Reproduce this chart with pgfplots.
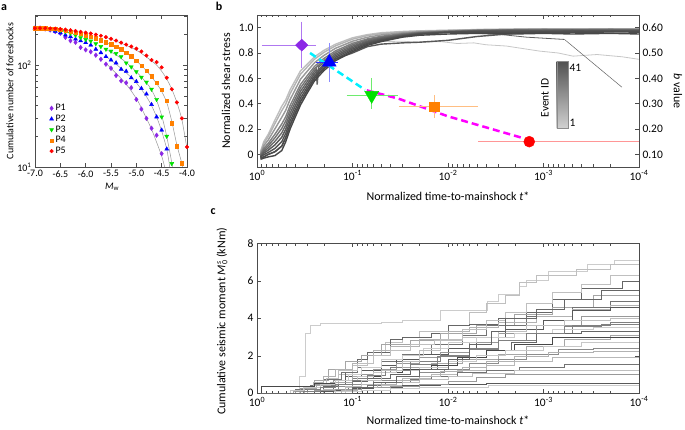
\documentclass[border=0pt]{standalone}
\usepackage{pgfplots}
\pgfplotsset{compat=1.18}
\usepackage{fontspec}
\setmainfont{Carlito}
\definecolor{cP}{RGB}{140,40,230}
\definecolor{cB}{RGB}{0,0,255}
\definecolor{cG}{RGB}{0,225,0}
\definecolor{cO}{RGB}{255,128,0}
\definecolor{cR}{RGB}{255,0,0}
\definecolor{cPl}{RGB}{175,120,240}
\definecolor{cBl}{RGB}{90,90,255}
\definecolor{cGl}{RGB}{110,235,110}
\definecolor{cOl}{RGB}{255,190,130}
\definecolor{cRl}{RGB}{255,150,150}
\definecolor{cCy}{RGB}{0,240,255}
\definecolor{cMa}{RGB}{255,0,255}
\definecolor{fitg}{RGB}{150,150,150}
\newcommand{\fa}{\fontsize{10}{12}\selectfont}
\newcommand{\fb}{\fontsize{11.5}{13.5}\selectfont}
\newcommand{\fl}{\fontsize{12}{14}\selectfont}
\newcommand{\tlab}{\mbox{10\textsuperscript{0}},\mbox{10\textsuperscript{-1}},\mbox{10\textsuperscript{-2}},\mbox{10\textsuperscript{-3}},\mbox{10\textsuperscript{-4}}}
\pgfplotsset{
  every axis/.append style={axis line style={black!70, line width=0.6bp}, every tick/.style={black!70, line width=0.5bp}},
}
\begin{document}
\begin{tikzpicture}[x=1bp,y=1bp]
\useasboundingbox (0bp,0bp) rectangle (685bp,430bp);

% ---------------- panel a ----------------
\begin{axis}[
  at={(35bp,263bp)}, anchor=south west, scale only axis, width=152bp, height=152bp,
  xmin=-7, xmax=-4, ymode=log, ymin=10, ymax=310,
  xtick={-7,-6.5,-6,-5.5,-5,-4.5,-4},
  xticklabels={\mbox{-7.0},\mbox{-6.5},\mbox{-6.0},\mbox{-5.5},\mbox{-5.0},\mbox{-4.5},\mbox{-4.0}},
  ytick={10,100}, yticklabels={\mbox{10\textsuperscript{1}},\mbox{10\textsuperscript{2}}},
  minor ytick={20,30,40,50,60,70,80,90,200,300},
  major tick length=4bp, minor tick length=2.5bp,
  tick label style={font=\fa},
  label style={font=\fa},
  xlabel={\textit{M}\textsubscript{w}},
  ylabel={Cumulative number of foreshocks},
  xlabel style={at={(axis description cs:0.507,-0.13)}, anchor=center},
  ylabel style={at={(axis description cs:-0.164,0.5)}, anchor=center},
  legend style={at={(axis description cs:0.075,0.44)}, anchor=north west, draw=none, fill=none, font=\fa, row sep=-1.2bp},
  legend cell align=left,
]
\addplot[fitg, line width=0.5bp, smooth, forget plot] coordinates {(-5.6,104)(-5.4,83)(-5.2,65)(-5.0,47)(-4.9,38)(-4.8,30)(-4.7,23.5)(-4.6,17.5)(-4.5,12.8)(-4.44,10)};
\addplot[fitg, line width=0.5bp, smooth, forget plot] coordinates {(-5.6,122)(-5.4,102)(-5.2,84)(-5.0,67)(-4.8,49)(-4.7,40)(-4.6,31)(-4.5,22.5)(-4.4,15)(-4.34,10)};
\addplot[fitg, line width=0.5bp, smooth, forget plot] coordinates {(-5.6,142)(-5.4,126)(-5.2,106)(-5.0,86)(-4.8,67)(-4.7,57)(-4.6,45)(-4.5,32)(-4.4,20)(-4.3,11)(-4.29,10)};
\addplot[fitg, line width=0.5bp, smooth, forget plot] coordinates {(-5.6,167)(-5.4,150)(-5.2,131)(-5.0,110)(-4.8,88)(-4.6,66)(-4.5,55)(-4.4,43)(-4.3,28)(-4.2,16.5)(-4.1,10.8)(-4.09,10)};
\addplot[fitg, line width=0.5bp, smooth, forget plot] coordinates {(-5.6,187)(-5.4,172)(-5.2,156)(-5.0,140)(-4.8,120)(-4.6,100)(-4.5,87)(-4.4,73)(-4.3,58)(-4.2,43)(-4.1,29)(-4.0,15)};

\addplot[only marks, mark=diamond*, mark size=2.3bp, color=cP] coordinates {
(-7.0,230)(-6.9,230)(-6.8,226)(-6.7,221)(-6.6,213)(-6.5,205)(-6.4,187)(-6.3,173)(-6.2,167)(-6.1,149)(-6.0,141)(-5.9,135)(-5.8,125)(-5.7,114)(-5.6,102)(-5.5,93)(-5.4,79)(-5.3,70)(-5.2,67)(-5.1,60)(-5.0,46)(-4.9,37)(-4.8,30)(-4.7,24)(-4.6,20.5)(-4.5,13.5)};
\addlegendentry{P1}
\addplot[only marks, mark=triangle*, mark size=2.3bp, color=cB] coordinates {
(-7.0,230)(-6.9,230)(-6.8,227)(-6.7,222)(-6.6,215)(-6.5,207)(-6.4,197)(-6.3,190)(-6.2,180)(-6.1,173)(-6.0,166)(-5.9,157)(-5.8,143)(-5.7,132)(-5.6,121)(-5.5,112)(-5.4,105)(-5.3,91)(-5.2,87)(-5.1,75)(-5.0,69)(-4.9,59)(-4.8,52)(-4.7,41)(-4.6,31)(-4.5,23)(-4.4,15)};
\addlegendentry{P2}
\addplot[only marks, mark=triangle*, mark size=2.3bp, mark options={rotate=180}, color=cG] coordinates {
(-7.0,230)(-6.9,230)(-6.8,229)(-6.7,227)(-6.6,224)(-6.5,219)(-6.4,212)(-6.3,205)(-6.2,196)(-6.1,186)(-6.0,178)(-5.9,172)(-5.8,162)(-5.7,152)(-5.6,143)(-5.5,137)(-5.4,130)(-5.3,121)(-5.2,105)(-5.1,96)(-5.0,86)(-4.9,76)(-4.8,68)(-4.7,58)(-4.6,46)(-4.5,31)(-4.4,20)(-4.3,10.8)};
\addlegendentry{P3}
\addplot[only marks, mark=square*, mark size=1.7bp, color=cO] coordinates {
(-7.0,230)(-6.9,230)(-6.8,229)(-6.7,228)(-6.6,226)(-6.5,222)(-6.4,218)(-6.3,213)(-6.2,208)(-6.1,203)(-6.0,197)(-5.9,190)(-5.8,183)(-5.7,176)(-5.6,168)(-5.5,160)(-5.4,152)(-5.3,143)(-5.2,133)(-5.1,122)(-5.0,110)(-4.9,99)(-4.8,88)(-4.7,78)(-4.6,67)(-4.5,57)(-4.4,45)(-4.3,27)(-4.2,16)(-4.1,10.9)};
\addlegendentry{P4}
\addplot[only marks, mark=*, mark size=1.8bp, color=cR] coordinates {
(-7.0,230)(-6.9,230)(-6.8,230)(-6.7,229)(-6.6,228)(-6.5,226)(-6.4,223)(-6.3,220)(-6.2,216)(-6.1,212)(-6.0,208)(-5.9,204)(-5.8,199)(-5.7,194)(-5.6,188)(-5.5,181)(-5.4,174)(-5.3,166)(-5.2,159)(-5.1,152)(-5.0,145)(-4.9,136)(-4.8,124)(-4.7,112)(-4.6,107)(-4.5,95)(-4.4,75)(-4.3,58)(-4.2,43)(-4.1,30)(-4.0,15.7)};
\addlegendentry{P5}
\end{axis}

% ---------------- panel b (left axis) ----------------
\begin{axis}[
  at={(257bp,263bp)}, anchor=south west, scale only axis, width=382bp, height=152bp,
  xmode=log, x dir=reverse, xmin=1e-4, xmax=1,
  xtick={1,0.1,0.01,0.001,0.0001}, xticklabels/.expand once={\tlab},
  minor xtick={0.9,0.8,0.7,0.6,0.5,0.4,0.3,0.2,0.09,0.08,0.07,0.06,0.05,0.04,0.03,0.02,0.009,0.008,0.007,0.006,0.005,0.004,0.003,0.002,0.0009,0.0008,0.0007,0.0006,0.0005,0.0004,0.0003,0.0002},
  major tick length=4bp, minor tick length=2.5bp,
  ymin=-0.1, ymax=1.1,
  ytick={0,0.2,0.4,0.6,0.8,1.0}, yticklabels={\mbox{0},\mbox{0.2},\mbox{0.4},\mbox{0.6},\mbox{0.8},\mbox{1.0}},
  ytick pos=left,
  tick label style={font=\fb}, label style={font=\fl},
  xlabel={Normalized time-to-mainshock \textit{t}*},
  ylabel={Normalized shear stress},
  xlabel style={at={(axis description cs:0.5,-0.195)}, anchor=center},
  ylabel style={at={(axis description cs:-0.081,0.5)}, anchor=center},
  every axis plot/.append style={line width=1.4bp},
]
\addplot[black!25] coordinates {(0.92,0.02)(0.85,0.10)(0.76,0.16)(0.65,0.27)(0.55,0.38)(0.5,0.43)(0.45,0.51)(0.4,0.58)(0.35,0.66)(0.3,0.71)(0.25,0.77)(0.2,0.82)(0.15,0.87)(0.1,0.92)(0.07,0.945)(0.05,0.96)(0.03,0.97)(0.02,0.975)(0.01,0.98)(0.005,0.985)(0.002,0.99)(0.001,0.99)(0.0005,0.99)(0.0002,0.99)(0.0001,0.99)};
\addplot[black!22, line width=0.8bp] coordinates {(0.92,0.005)(0.85,0.068)(0.76,0.115)(0.65,0.2)(0.55,0.293)(0.5,0.348)(0.45,0.433)(0.4,0.508)(0.35,0.593)(0.3,0.653)(0.25,0.723)(0.2,0.78)(0.15,0.838)(0.1,0.885)(0.07,0.895)(0.05,0.89)(0.03,0.893)(0.02,0.885)(0.012,0.89)(0.008,0.875)(0.00537,0.88)(0.004,0.865)(0.00245,0.855)(0.0011,0.815)(0.0007,0.80)(0.00049,0.775)(0.000275,0.788)(0.00015,0.77)(0.0001,0.75)};
\addplot[black!30] coordinates {(0.92,0.014)(0.85,0.087)(0.76,0.142)(0.65,0.242)(0.55,0.345)(0.5,0.397)(0.45,0.479)(0.4,0.551)(0.35,0.633)(0.3,0.687)(0.25,0.751)(0.2,0.804)(0.15,0.857)(0.1,0.909)(0.07,0.937)(0.05,0.953)(0.03,0.966)(0.02,0.972)(0.01,0.978)(0.005,0.984)(0.002,0.985)(0.001,0.986)(0.0005,0.987)(0.0002,0.986)(0.0001,0.987)};
\addplot[black!40] coordinates {(0.92,0.005)(0.85,0.068)(0.76,0.115)(0.65,0.2)(0.55,0.293)(0.5,0.348)(0.45,0.433)(0.4,0.508)(0.35,0.593)(0.3,0.653)(0.25,0.723)(0.2,0.78)(0.15,0.838)(0.1,0.893)(0.07,0.924)(0.05,0.943)(0.03,0.959)(0.02,0.968)(0.01,0.975)(0.005,0.981)(0.002,0.986)(0.001,0.988)(0.0005,0.987)(0.0002,0.989)(0.0001,0.988)};
\addplot[black!50] coordinates {(0.92,-0.004)(0.85,0.048)(0.76,0.088)(0.65,0.158)(0.55,0.24)(0.5,0.298)(0.45,0.386)(0.4,0.464)(0.35,0.552)(0.3,0.618)(0.25,0.694)(0.2,0.756)(0.15,0.818)(0.1,0.876)(0.07,0.911)(0.05,0.932)(0.03,0.952)(0.02,0.963)(0.01,0.972)(0.005,0.979)(0.002,0.981)(0.001,0.98)(0.0005,0.982)(0.0002,0.981)(0.0001,0.982)};
\addplot[black!55] coordinates {(0.92,-0.01)(0.85,0.035)(0.76,0.07)(0.65,0.13)(0.55,0.205)(0.5,0.265)(0.45,0.355)(0.4,0.435)(0.35,0.525)(0.3,0.595)(0.25,0.675)(0.2,0.74)(0.15,0.805)(0.1,0.865)(0.07,0.903)(0.05,0.925)(0.03,0.948)(0.02,0.96)(0.01,0.97)(0.005,0.978)(0.002,0.983)(0.001,0.985)(0.0005,0.984)(0.0002,0.986)(0.0001,0.985)};
\addplot[black!60] coordinates {(0.92,-0.016)(0.85,0.022)(0.76,0.052)(0.65,0.102)(0.55,0.17)(0.5,0.232)(0.45,0.324)(0.4,0.406)(0.35,0.498)(0.3,0.572)(0.25,0.656)(0.24,0.67)(0.2344,0.55)(0.2265,0.69)(0.2,0.724)(0.15,0.792)(0.1,0.854)(0.07,0.894)(0.05,0.918)(0.03,0.943)(0.02,0.957)(0.01,0.968)(0.005,0.976)(0.002,0.979)(0.001,0.98)(0.0005,0.982)(0.0002,0.98)(0.0001,0.981)};
\addplot[black!62, line width=0.8bp] coordinates {(0.92,-0.022)(0.85,0.009)(0.76,0.034)(0.65,0.074)(0.55,0.135)(0.5,0.199)(0.45,0.293)(0.4,0.377)(0.35,0.471)(0.3,0.549)(0.25,0.637)(0.2,0.708)(0.15,0.779)(0.1,0.843)(0.07,0.886)(0.05,0.911)(0.03,0.939)(0.02,0.954)(0.01,0.966)(0.005,0.955)(0.00288,0.947)(0.00151,0.925)(0.000603,0.907)};
\addplot[black!62, line width=0.5bp] coordinates {(0.000603,0.907)(0.000151,0.53)};
\addplot[black!64] coordinates {(0.92,-0.022)(0.85,0.009)(0.76,0.034)(0.65,0.074)(0.55,0.135)(0.5,0.199)(0.45,0.293)(0.4,0.377)(0.35,0.471)(0.3,0.549)(0.25,0.637)(0.2,0.708)(0.15,0.779)(0.1,0.843)(0.07,0.886)(0.05,0.911)(0.03,0.939)(0.02,0.954)(0.01,0.966)(0.005,0.975)(0.002,0.977)(0.001,0.975)(0.0005,0.978)(0.0002,0.976)(0.0001,0.978)};
\addplot[black!66] coordinates {(0.92,-0.03)(0.85,-0.02)(0.76,0.0)(0.65,0.02)(0.55,0.065)(0.5,0.133)(0.45,0.231)(0.4,0.319)(0.35,0.417)(0.3,0.503)(0.25,0.599)(0.2,0.676)(0.15,0.753)(0.1,0.80)(0.07,0.85)(0.05,0.87)(0.03,0.88)(0.02,0.885)(0.01,0.90)(0.005,0.93)(0.002,0.955)(0.001,0.965)(0.0005,0.97)(0.0002,0.975)(0.0001,0.975)};
\addplot[black!68] coordinates {(0.92,-0.02)(0.85,-0.004)(0.76,0.016)(0.65,0.046)(0.55,0.10)(0.5,0.166)(0.45,0.262)(0.4,0.348)(0.35,0.444)(0.3,0.526)(0.25,0.618)(0.2,0.692)(0.15,0.766)(0.1,0.832)(0.07,0.877)(0.05,0.904)(0.03,0.934)(0.02,0.951)(0.01,0.964)(0.005,0.97)(0.002,0.972)(0.001,0.97)(0.0005,0.973)(0.0002,0.97)(0.0001,0.972)};
\addplot[black!70] coordinates {(0.92,-0.03)(0.85,-0.02)(0.76,0.0)(0.65,0.02)(0.55,0.065)(0.5,0.133)(0.45,0.231)(0.4,0.319)(0.35,0.417)(0.3,0.503)(0.25,0.599)(0.2,0.676)(0.15,0.753)(0.1,0.821)(0.07,0.869)(0.05,0.897)(0.03,0.93)(0.02,0.948)(0.01,0.962)(0.005,0.965)(0.002,0.96)(0.001,0.965)(0.0005,0.962)(0.0002,0.966)(0.0001,0.965)};
\addplot[black!72] coordinates {(0.92,-0.04)(0.85,-0.03)(0.76,-0.02)(0.65,-0.01)(0.55,0.03)(0.5,0.10)(0.45,0.20)(0.4,0.29)(0.35,0.39)(0.3,0.48)(0.25,0.58)(0.2,0.66)(0.15,0.74)(0.1,0.81)(0.07,0.86)(0.05,0.89)(0.03,0.925)(0.02,0.94)(0.01,0.95)(0.005,0.955)(0.002,0.95)(0.001,0.955)(0.0005,0.95)(0.0002,0.955)(0.0001,0.95)};
\end{axis}

% ---------------- panel b (right axis, b value) ----------------
\begin{axis}[
  at={(257bp,263bp)}, anchor=south west, scale only axis, width=382bp, height=152bp,
  xmode=log, x dir=reverse, xmin=1e-4, xmax=1,
  axis x line=none, axis y line*=right,
  ymin=0.05, ymax=0.65,
  ytick={0.1,0.2,0.3,0.4,0.5,0.6}, yticklabels={\mbox{0.10},\mbox{0.20},\mbox{0.30},\mbox{0.40},\mbox{0.50},\mbox{0.60}},
  major tick length=4bp,
  tick label style={font=\fb}, label style={font=\fl},
  ylabel={\textit{b} value},
  ylabel style={at={(axis description cs:1.102,0.5)}, anchor=center, rotate=180},
]
\addplot[cCy, line width=2.5bp, dash pattern=on 7bp off 4bp] coordinates {(0.2786,0.50)(0.0741,0.355)};
\addplot[cMa, line width=2.5bp, dash pattern=on 7bp off 4bp] coordinates {(0.0708,0.3525)(0.0331,0.32)(0.01,0.25)(0.00162,0.1635)};
\addplot[cPl, line width=1bp] coordinates {(0.891,0.531)(0.2427,0.531)};
\addplot[cPl, line width=1bp] coordinates {(0.340,0.624)(0.340,0.4415)};
\addplot[cB!80!white, line width=1bp] coordinates {(0.241,0.4635)(0.143,0.4635)};
\addplot[cBl!70!white, line width=1bp] coordinates {(0.175,0.54)(0.175,0.384)};
\addplot[cGl, line width=1bp] coordinates {(0.115,0.3325)(0.0331,0.3325)};
\addplot[cGl, line width=1bp] coordinates {(0.063,0.4015)(0.063,0.2785)};
\addplot[cOl, line width=1bp] coordinates {(0.0326,0.289)(0.00481,0.289)};
\addplot[cOl, line width=1bp] coordinates {(0.0139,0.3325)(0.0139,0.243)};
\addplot[cRl, line width=1bp] coordinates {(0.00481,0.15)(0.0001,0.15)};
\addplot[cRl, line width=1bp] coordinates {(0.00141,0.17)(0.00141,0.13)};
\addplot[only marks, mark=diamond*, mark size=6bp, mark options={xscale=1.4}, color=cP] coordinates {(0.340,0.531)};
\addplot[only marks, mark=triangle*, mark size=8bp, color=cB] coordinates {(0.175,0.4635)};
\addplot[only marks, mark=triangle*, mark size=8bp, mark options={rotate=180}, color=cG] coordinates {(0.063,0.3325)};
\addplot[only marks, mark=square*, mark size=4.7bp, color=cO] coordinates {(0.0139,0.289)};
\addplot[only marks, mark=*, mark size=5.5bp, color=cR] coordinates {(0.00141,0.15)};
\shade[top color=black!68, bottom color=black!18] (rel axis cs:0.7846,0.255) rectangle (rel axis cs:0.815,0.693);
\draw[black!45, line width=0.4bp] (rel axis cs:0.7846,0.255) rectangle (rel axis cs:0.815,0.693);
\node[font=\fb, anchor=west, inner sep=1bp] at (rel axis cs:0.815,0.655) {41};
\node[font=\fb, anchor=west, inner sep=1bp] at (rel axis cs:0.815,0.29) {1};
\node[font=\fb, rotate=90] at (rel axis cs:0.754,0.454) {Event ID};
\end{axis}

% ---------------- panel c ----------------
\begin{axis}[
  at={(257bp,36.7bp)}, anchor=south west, scale only axis, width=382bp, height=150bp,
  xmode=log, x dir=reverse, xmin=1e-4, xmax=1,
  xtick={1,0.1,0.01,0.001,0.0001}, xticklabels/.expand once={\tlab},
  minor xtick={0.9,0.8,0.7,0.6,0.5,0.4,0.3,0.2,0.09,0.08,0.07,0.06,0.05,0.04,0.03,0.02,0.009,0.008,0.007,0.006,0.005,0.004,0.003,0.002,0.0009,0.0008,0.0007,0.0006,0.0005,0.0004,0.0003,0.0002},
  major tick length=4bp, minor tick length=2.5bp,
  ymin=0, ymax=8, ytick={0,2,4,6,8}, yticklabels={\mbox{0},\mbox{2},\mbox{4},\mbox{6},\mbox{8}},
  tick label style={font=\fb}, label style={font=\fl},
  xlabel={Normalized time-to-mainshock \textit{t}*},
  ylabel={Cumulative seismic moment \textit{M}\rlap{\textsuperscript{\textit{s}}}\textsubscript{0} (kNm)},
  xlabel style={at={(axis description cs:0.5,-0.178)}, anchor=center},
  ylabel style={at={(axis description cs:-0.0916,0.48)}, anchor=center},
  every axis plot/.append style={const plot, line width=0.6bp},
]
\addplot[black!20] coordinates {(0.92,0)(0.42,0)(0.36,0.9)(0.31,3.2)(0.28,3.6)(0.22,3.75)(0.05,3.8)(0.03,3.9)(0.012,4.45)(0.0039,4.9)(0.003,5.3)(0.0018,5.7)(0.0015,6.05)(0.0009,6.5)(0.00035,6.9)(0.00018,7.1)(0.0001,7.1)};
\addplot[black!25] coordinates {(0.92,0)(0.3,0)(0.22,0.4)(0.14,1.0)(0.1,1.5)(0.07,2.2)(0.045,2.7)(0.03,3.0)(0.02,3.3)(0.01,3.6)(0.006,4.3)(0.004,4.8)(0.0025,5.2)(0.0018,5.9)(0.0012,6.3)(0.00045,6.6)(0.0002,6.9)(0.0001,6.9)};
\addplot[black!60] coordinates {(0.92,0)(0.2,0)(0.16,0.5)(0.12,1.1)(0.09,1.8)(0.07,2.2)(0.04,2.9)(0.03,3.0)(0.015,3.2)(0.01,3.6)(0.006,3.7)(0.003,4.0)(0.0015,4.3)(0.0008,5.0)(0.0004,5.6)(0.00015,5.95)(0.0001,5.95)};
\addplot[black!35] coordinates {(0.92,0)(0.35,0)(0.3,0.3)(0.25,0.7)(0.18,1.3)(0.12,1.7)(0.08,2.0)(0.05,2.6)(0.025,2.8)(0.012,3.2)(0.005,3.6)(0.002,4.2)(0.0008,4.6)(0.0003,5.2)(0.0001,5.2)};
\addplot[black!55] coordinates {(0.92,0)(0.5,0)(0.4,0.2)(0.28,0.45)(0.2,0.75)(0.13,1.1)(0.09,1.4)(0.05,1.7)(0.03,2.1)(0.015,2.6)(0.007,3.1)(0.004,3.6)(0.0015,4.1)(0.0005,4.6)(0.0002,4.9)(0.0001,4.9)};
\addplot[black!30] coordinates {(0.92,0)(0.4,0)(0.32,0.3)(0.26,0.6)(0.2,0.9)(0.15,1.3)(0.1,1.6)(0.06,2.3)(0.04,2.5)(0.02,2.9)(0.01,3.3)(0.006,3.5)(0.003,3.8)(0.0012,4.1)(0.0005,4.5)(0.0002,4.7)(0.0001,4.7)};
\addplot[black!65] coordinates {(0.92,0)(0.28,0)(0.22,0.3)(0.17,0.6)(0.12,0.9)(0.08,1.2)(0.05,1.5)(0.035,1.8)(0.02,2.1)(0.01,2.4)(0.005,3.0)(0.0025,3.4)(0.001,3.9)(0.0005,4.4)(0.0002,4.6)(0.0001,4.6)};
\addplot[black!40] coordinates {(0.92,0)(0.45,0)(0.35,0.25)(0.25,0.5)(0.16,0.7)(0.1,1.0)(0.06,1.3)(0.035,1.6)(0.02,1.9)(0.012,2.2)(0.006,2.7)(0.003,3.2)(0.0012,3.6)(0.0004,4.1)(0.0001,4.1)};
\addplot[black!25] coordinates {(0.92,0)(0.33,0)(0.25,0.4)(0.19,0.8)(0.14,1.2)(0.09,1.6)(0.06,2.0)(0.04,2.3)(0.025,2.6)(0.014,2.8)(0.007,3.0)(0.003,3.3)(0.0015,3.6)(0.0006,3.9)(0.0002,4.0)(0.0001,4.0)};
\addplot[black!50] coordinates {(0.92,0)(0.38,0)(0.3,0.2)(0.22,0.4)(0.15,0.6)(0.1,0.8)(0.06,1.1)(0.04,1.4)(0.025,1.7)(0.012,2.0)(0.006,2.4)(0.003,2.8)(0.0012,3.2)(0.0005,3.6)(0.0002,3.8)(0.0001,3.8)};
\addplot[black!20] coordinates {(0.92,0)(0.25,0)(0.2,0.3)(0.15,0.7)(0.11,1.0)(0.08,1.4)(0.05,1.8)(0.03,2.0)(0.018,2.4)(0.01,2.7)(0.005,3.0)(0.002,3.2)(0.0008,3.4)(0.0003,3.5)(0.0001,3.5)};
\addplot[black!60] coordinates {(0.92,0)(0.3,0)(0.25,0.15)(0.2,0.35)(0.14,0.5)(0.1,0.65)(0.07,0.8)(0.04,1.0)(0.025,1.3)(0.013,1.6)(0.007,1.9)(0.004,2.3)(0.0022,2.7)(0.0012,3.2)(0.0004,3.3)(0.0001,3.3)};
\addplot[black!35] coordinates {(0.92,0)(0.5,0)(0.42,0.1)(0.33,0.25)(0.24,0.45)(0.17,0.6)(0.1,0.9)(0.06,1.1)(0.03,1.4)(0.015,1.6)(0.007,1.8)(0.003,2.1)(0.0015,2.5)(0.0006,2.9)(0.0002,3.1)(0.0001,3.1)};
\addplot[black!72] coordinates {(0.95,0)(0.9,0.37)(0.3,0.37)(0.25,0.55)(0.15,0.7)(0.09,0.9)(0.05,1.1)(0.03,1.3)(0.015,1.5)(0.008,1.9)(0.004,2.3)(0.002,2.6)(0.0008,3.0)(0.0001,3.0)};
\addplot[black!22] coordinates {(0.92,0)(0.6,0)(0.45,0.15)(0.33,0.3)(0.22,0.5)(0.15,0.7)(0.09,0.9)(0.06,1.1)(0.035,1.2)(0.02,1.4)(0.01,1.7)(0.005,2.0)(0.0025,2.3)(0.001,2.5)(0.0004,2.7)(0.0001,2.7)};
\addplot[black!45] coordinates {(0.92,0)(0.27,0)(0.2,0.2)(0.14,0.35)(0.1,0.5)(0.06,0.7)(0.035,0.9)(0.02,1.1)(0.011,1.3)(0.006,1.6)(0.003,1.8)(0.0015,2.1)(0.0007,2.35)(0.0003,2.4)(0.0001,2.4)};
\addplot[black!28] coordinates {(0.92,0)(0.4,0)(0.3,0.1)(0.2,0.2)(0.12,0.35)(0.08,0.5)(0.05,0.6)(0.03,0.8)(0.015,1.0)(0.008,1.2)(0.004,1.5)(0.002,1.7)(0.0008,1.9)(0.0001,1.9)};
\addplot[black!55] coordinates {(0.92,0)(0.22,0)(0.16,0.15)(0.11,0.3)(0.07,0.45)(0.045,0.6)(0.025,0.75)(0.015,0.9)(0.008,1.1)(0.004,1.25)(0.0018,1.4)(0.0006,1.55)(0.0001,1.55)};
\addplot[black!25] coordinates {(0.92,0)(0.3,0)(0.2,0.1)(0.13,0.2)(0.08,0.3)(0.05,0.45)(0.03,0.6)(0.02,0.75)(0.01,0.9)(0.0055,1.05)(0.002,1.2)(0.0001,1.2)};
\addplot[black!65] coordinates {(0.92,0)(0.35,0)(0.25,0.1)(0.16,0.18)(0.1,0.25)(0.06,0.33)(0.03,0.4)(0.012,0.46)(0.004,0.53)(0.0001,0.53)};
\addplot[black!20] coordinates {(0.92,0)(0.25,0)(0.15,0.08)(0.08,0.15)(0.04,0.25)(0.02,0.32)(0.0038,0.44)(0.0001,0.44)};
\addplot[black!40] coordinates {(0.92,0)(0.55,0)(0.4,0.08)(0.25,0.15)(0.15,0.22)(0.08,0.3)(0.04,0.38)(0.02,0.5)(0.01,0.65)(0.005,0.85)(0.0025,1.0)(0.0001,1.0)};
\addplot[black!30] coordinates {(0.92,0)(0.2,0)(0.13,0.15)(0.09,0.3)(0.055,0.5)(0.035,0.7)(0.02,0.9)(0.012,1.15)(0.007,1.4)(0.004,1.7)(0.002,1.95)(0.0009,2.2)(0.0003,2.25)(0.0001,2.25)};
\addplot[black!50] coordinates {(0.92,0)(0.45,0)(0.33,0.12)(0.22,0.3)(0.15,0.5)(0.1,0.7)(0.07,0.95)(0.045,1.2)(0.025,1.55)(0.013,1.95)(0.006,2.35)(0.003,2.8)(0.0015,3.2)(0.0006,3.55)(0.00025,3.7)(0.0001,3.7)};
\addplot[black!25] coordinates {(0.92,0)(0.18,0)(0.12,0.3)(0.08,0.7)(0.05,1.2)(0.03,1.7)(0.02,2.3)(0.012,2.9)(0.007,3.4)(0.004,3.9)(0.0025,4.3)(0.0015,4.8)(0.0008,5.4)(0.0004,5.8)(0.0002,6.3)(0.0001,6.3)};
\addplot[black!60] coordinates {(0.92,0)(0.15,0)(0.1,0.3)(0.06,0.6)(0.035,0.9)(0.02,1.3)(0.01,1.8)(0.006,2.6)(0.0035,3.3)(0.0025,4.0)(0.0012,4.5)(0.0006,5.0)(0.00025,5.5)(0.0001,5.5)};
\end{axis}

\node[font=\bfseries\fontsize{12}{12}\selectfont] at (4bp,422bp) {a};
\node[font=\bfseries\fontsize{12}{12}\selectfont] at (219bp,424bp) {b};
\node[font=\bfseries\fontsize{12}{12}\selectfont] at (213bp,218bp) {c};
\end{tikzpicture}
\end{document}
